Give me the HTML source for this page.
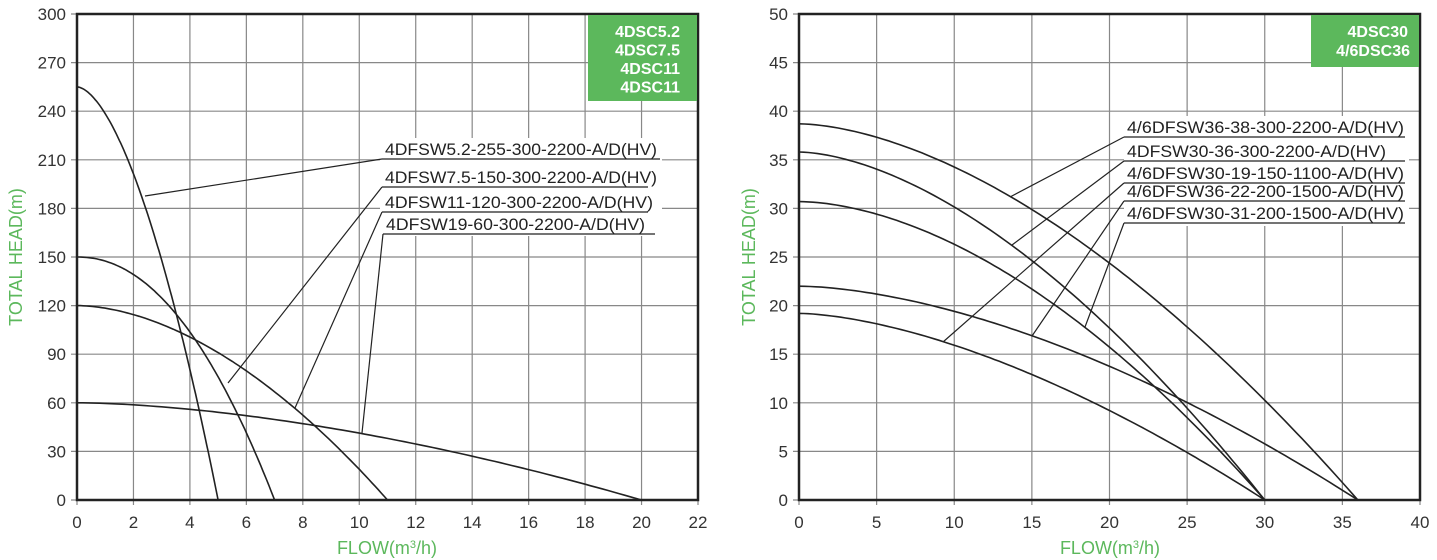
<!DOCTYPE html><html><head><meta charset="utf-8"><style>
body{margin:0;background:#fff}
svg{display:block;font-family:"Liberation Sans",sans-serif}
</style></head><body>
<svg id="s" width="1437" height="560" xmlns="http://www.w3.org/2000/svg"></svg>
<script>
const s=document.getElementById('s');let h='';
function chart(x0,x1,y0,y1,xmax,xstep,ymax,ystep){
  const X=q=>x0+(x1-x0)*q/xmax, Y=v=>y1-(y1-y0)*v/ymax;
  for(let q=0;q<=xmax;q+=xstep){h+=`<line x1="${X(q)}" y1="${y0}" x2="${X(q)}" y2="${y1+5}" stroke="#888" stroke-width="1.2"/>`;
    h+=`<text x="${X(q)}" y="${y1+28}" font-size="17" fill="#333" text-anchor="middle">${q}</text>`;}
  for(let v=0;v<=ymax;v+=ystep){h+=`<line x1="${x0-6}" y1="${Y(v)}" x2="${x1}" y2="${Y(v)}" stroke="#888" stroke-width="1.2"/>`;
    h+=`<text x="${x0-11}" y="${Y(v)+6}" font-size="17" fill="#333" text-anchor="end">${v}</text>`;}
  h+=`<rect x="${x0}" y="${y0}" width="${x1-x0}" height="${y1-y0}" fill="none" stroke="#222" stroke-width="2.5"/>`;
  return {X,Y};
}
function curve(c,h0,qe,n){let p='';for(let i=0;i<=100;i++){const q=qe*i/100;p+=(i?'L':'M')+c.X(q).toFixed(1)+','+c.Y(h0*(1-Math.pow(q/qe,n))).toFixed(1);}h+=`<path d="${p}" fill="none" stroke="#222" stroke-width="1.6"/>`;}
const A=chart(77,698,14,500,22,2,300,30);
const B=chart(799,1420,14,500,40,5,50,5);
h+=`<rect x="380" y="138" width="282" height="98" fill="#fff"/>`;
h+=`<rect x="1124" y="116" width="285" height="110" fill="#fff"/>`;
curve(A,255,5,1.7);curve(A,150,7,2.1);curve(A,120,11,1.8);curve(A,60,20,1.68);
curve(B,38.7,36,1.69);curve(B,35.8,30,1.68);curve(B,30.7,30,1.77);curve(B,22,36,1.67);curve(B,19.2,30,1.61);
function lab(t,x,y,x2,px,py,tl){h+=`<text x="${x+3}" y="${y-4}" font-size="16.5" fill="#222" textLength="${tl}" lengthAdjust="spacingAndGlyphs">${t}</text><line x1="${x}" y1="${y}" x2="${x2}" y2="${y}" stroke="#222" stroke-width="1.2"/><line x1="${px}" y1="${py}" x2="${x}" y2="${y}" stroke="#222" stroke-width="1.2"/>`;}
lab('4DFSW5.2-255-300-2200-A/D(HV)',382,159,660,145,196,272);
lab('4DFSW7.5-150-300-2200-A/D(HV)',382,187,648,228,383,272);
lab('4DFSW11-120-300-2200-A/D(HV)',382,212,648,295,408,268);
lab('4DFSW19-60-300-2200-A/D(HV)',383,234,655,362,433,259);
lab('4/6DFSW36-38-300-2200-A/D(HV)',1124,137,1405,1010,197,277);
lab('4DFSW30-36-300-2200-A/D(HV)',1124,161,1405,1012,245,259);
lab('4/6DFSW30-19-150-1100-A/D(HV)',1124,183,1405,943,342,277);
lab('4/6DFSW36-22-200-1500-A/D(HV)',1124,201,1405,1032,336,277);
lab('4/6DFSW30-31-200-1500-A/D(HV)',1124,223,1405,1085,327,277);
h+=`<rect x="588" y="15" width="109" height="86" fill="#5cb85c"/>`;
['4DSC5.2','4DSC7.5','4DSC11','4DSC11'].forEach((t,i)=>h+=`<text x="680" y="${37+i*18.5}" font-size="16" font-weight="bold" fill="#fff" text-anchor="end">${t}</text>`);
h+=`<rect x="1311" y="15" width="108" height="52" fill="#5cb85c"/>`;
h+=`<text x="1408" y="37" font-size="16" font-weight="bold" fill="#fff" text-anchor="end">4DSC30</text><text x="1410" y="56" font-size="16" font-weight="bold" fill="#fff" text-anchor="end">4/6DSC36</text>`;
h+=`<text transform="translate(22,257) rotate(-90)" font-size="18" fill="#5cb85c" text-anchor="middle">TOTAL HEAD(m)</text>`;
h+=`<text transform="translate(755,257) rotate(-90)" font-size="18" fill="#5cb85c" text-anchor="middle">TOTAL HEAD(m)</text>`;
h+=`<text x="387" y="554" font-size="18" fill="#5cb85c" text-anchor="middle">FLOW(m<tspan font-size="11" dy="-6">3</tspan><tspan dy="6">/h)</tspan></text>`;
h+=`<text x="1110" y="554" font-size="18" fill="#5cb85c" text-anchor="middle">FLOW(m<tspan font-size="11" dy="-6">3</tspan><tspan dy="6">/h)</tspan></text>`;
s.innerHTML=h;
</script>
</body></html>
